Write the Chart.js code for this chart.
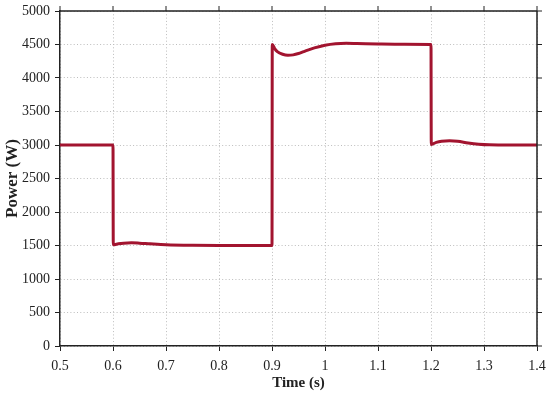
<!DOCTYPE html>
<html>
<head>
<meta charset="utf-8">
<script src="https://cdn.jsdelivr.net/npm/chart.js@4.4.1/dist/chart.umd.min.js"></script>
<style>
html,body{margin:0;padding:0;background:#fff;}
#wrap{width:550px;height:394px;position:relative;}
</style>
</head>
<body>
<div id="wrap"><canvas id="c" width="550" height="394"></canvas></div>
<script>
const timeS = [0.5, 0.6, 0.6005, 0.61, 0.62, 0.635, 0.65, 0.67, 0.7, 0.75, 0.8, 0.9,
  0.9005, 0.905, 0.91, 0.92, 0.93, 0.94, 0.95, 0.96, 0.98, 1.0, 1.02, 1.04, 1.06, 1.1, 1.15, 1.2,
  1.2005, 1.21, 1.22, 1.235, 1.25, 1.27, 1.29, 1.31, 1.35, 1.4];
const powerW = [3000, 3000, 1510, 1525, 1535, 1540, 1535, 1525, 1512, 1503, 1500, 1500,
  4500, 4440, 4395, 4355, 4340, 4345, 4365, 4395, 4450, 4490, 4512, 4518, 4515, 4508, 4503, 4500,
  3008, 3040, 3057, 3062, 3055, 3030, 3012, 3003, 3000, 3000];
const xTicks = [0.5, 0.6, 0.7, 0.8, 0.9, 1, 1.1, 1.2, 1.3, 1.4];
const yTicks = [0, 500, 1000, 1500, 2000, 2500, 3000, 3500, 4000, 4500, 5000];

const FONT = "'Liberation Serif', 'Times New Roman', serif";
const pts = timeS.map((t, i) => ({x: t, y: powerW[i]}));

const frame = {
  id: 'frame',
  afterDraw(chart) {
    const {ctx, chartArea: a, scales} = chart;
    ctx.save();
    ctx.strokeStyle = '#222';
    ctx.lineWidth = 1.5;
    ctx.beginPath();
    ctx.moveTo(a.left, a.top); ctx.lineTo(a.right, a.top);
    ctx.moveTo(a.right, a.top); ctx.lineTo(a.right, a.bottom);
    ctx.stroke();
    ctx.lineWidth = 1;
    ctx.beginPath();
    xTicks.forEach(v => { const px = scales.x.getPixelForValue(v); ctx.moveTo(px, a.top); ctx.lineTo(px, a.top - 5); });
    yTicks.forEach(v => { const py = scales.y.getPixelForValue(v); ctx.moveTo(a.right, py); ctx.lineTo(a.right + 5, py); });
    ctx.stroke();
    ctx.restore();
  }
};

new Chart(document.getElementById('c'), {
  type: 'line',
  data: {
    datasets: [{
      data: pts,
      borderColor: '#a2142f',
      borderWidth: 3,
      pointRadius: 0,
      tension: 0.3,
      cubicInterpolationMode: 'monotone',
      fill: false
    }]
  },
  options: {
    responsive: false,
    animation: false,
    devicePixelRatio: 1,
    layout: {padding: {top: 11, right: 13, left: 0, bottom: 0}},
    plugins: {legend: {display: false}, tooltip: {enabled: false}},
    scales: {
      x: {
        type: 'linear', min: 0.5, max: 1.4,
        afterFit: s => { s.height = 48; s.paddingLeft = 0; s.paddingRight = 0; },
        afterBuildTicks: s => { s.ticks = xTicks.map(v => ({value: v})); },
        grid: {color: '#bdbdbd', lineWidth: 1, tickColor: '#222', tickLength: 5, tickBorderDash: []},
        border: {display: true, color: '#222', width: 1.5, dash: [1, 2.3]},
        ticks: {font: {family: FONT, size: 14}, color: '#222', padding: 7, maxRotation: 0,
          callback: v => String(v)},
        title: {display: true, text: 'Time (s)', font: {family: FONT, size: 15, weight: 'bold'}, color: '#222', padding: {top: 0, bottom: 2}}
      },
      y: {
        type: 'linear', min: 0, max: 5000,
        afterFit: s => { s.width = 60; s.paddingTop = 0; s.paddingBottom = 0; },
        afterBuildTicks: s => { s.ticks = yTicks.map(v => ({value: v})); },
        grid: {color: '#bdbdbd', lineWidth: 1, tickColor: '#222', tickLength: 5, tickBorderDash: []},
        border: {display: true, color: '#222', width: 1.5, dash: [1, 2.3]},
        ticks: {font: {family: FONT, size: 14}, color: '#222', padding: 5,
          callback: v => String(v)},
        title: {display: true, text: 'Power (W)', font: {family: FONT, size: 17, weight: 'bold'}, color: '#222', padding: {top: 2, bottom: 0}}
      }
    }
  },
  plugins: [frame]
});
</script>
</body>
</html>
